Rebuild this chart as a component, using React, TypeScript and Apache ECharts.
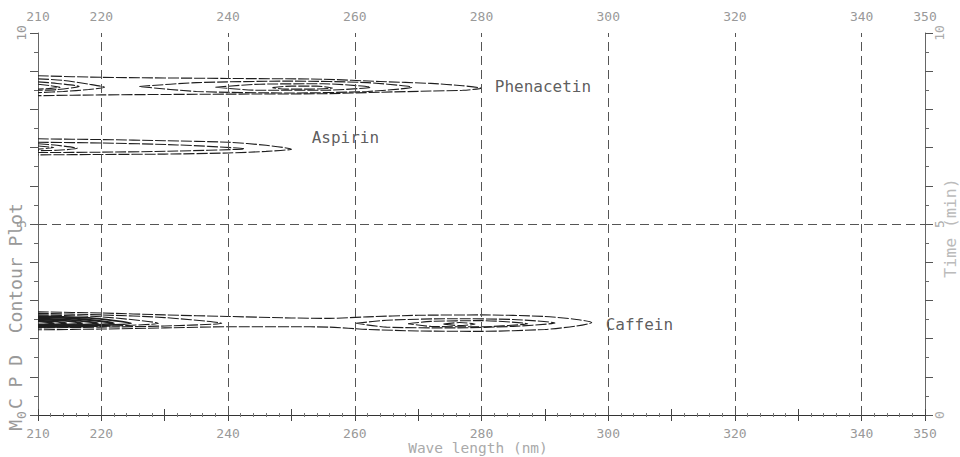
import React, { useEffect, useRef } from "react";
import * as echarts from "echarts";

// Axis ticks / labels
const waveLabels = [210, 220, 240, 260, 280, 300, 320, 340, 350];
const timeLabels = [0, 5, 10];
const gridWaves = [220, 240, 260, 280, 300, 320, 340];
const gridTimes = [5];

// Compound annotations
const compoundNames = ["Phenacetin", "Aspirin", "Caffein"];
const labelWaves = [282.1, 253.2, 299.6];
const labelTimes = [8.59, 7.26, 2.36];

// Contour lines [wavelength nm, time min]
const phenacetinContours: number[][][] = [
  [[210, 8.88], [220, 8.84], [240, 8.81], [255, 8.79], [264, 8.73], [272, 8.68], [277, 8.62], [280, 8.555], [277, 8.5], [272, 8.48], [264, 8.45], [255, 8.41], [240, 8.4], [220, 8.38], [210, 8.36]],
  [[210, 8.8], [214, 8.76], [218, 8.66], [220.5, 8.58], [218, 8.52], [214, 8.47], [210, 8.44]],
  [[226, 8.6], [235, 8.7], [250, 8.74], [262, 8.7], [269, 8.58], [262, 8.47], [250, 8.43], [235, 8.47], [226, 8.6]],
  [[210, 8.72], [213, 8.68], [216.5, 8.6], [213, 8.52], [210, 8.5]],
  [[238, 8.58], [245, 8.66], [255, 8.67], [262.5, 8.58], [255, 8.5], [245, 8.5], [238, 8.58]],
  [[210, 8.66], [212, 8.62], [213.5, 8.58], [212, 8.55], [210, 8.53]],
  [[247, 8.57], [250, 8.61], [254, 8.61], [256.5, 8.56], [253, 8.53], [249, 8.53], [247, 8.57]],
];

const aspirinContours: number[][][] = [
  [[210, 7.23], [220, 7.21], [230, 7.18], [240, 7.14], [246, 7.06], [250, 6.96], [246, 6.9], [240, 6.86], [230, 6.83], [220, 6.82], [210, 6.81]],
  [[210, 7.14], [220, 7.12], [232, 7.07], [242.6, 6.97], [232, 6.91], [220, 6.88], [210, 6.87]],
  [[210, 7.1], [213, 7.06], [216.2, 6.98], [213, 6.93], [210, 6.92]],
  [[210, 7.04], [212.5, 7.0], [210, 6.96]],
];

const caffeinContours: number[][][] = [
  [[210, 2.7], [220, 2.67], [230, 2.62], [240, 2.58], [250, 2.54], [256, 2.53], [262, 2.57], [270, 2.61], [280, 2.62], [290, 2.58], [295, 2.5], [297.4, 2.42], [295, 2.33], [290, 2.24], [280, 2.19], [270, 2.2], [262, 2.24], [256, 2.3], [250, 2.31], [240, 2.31], [230, 2.28], [220, 2.25], [210, 2.23]],
  [[210, 2.66], [220, 2.62], [230, 2.55], [239, 2.4], [230, 2.33], [220, 2.3], [210, 2.28]],
  [[210, 2.62], [220, 2.57], [229, 2.4], [220, 2.32], [210, 2.3]],
  [[210, 2.59], [218, 2.54], [224.7, 2.4], [218, 2.33], [210, 2.31]],
  [[210, 2.56], [216, 2.52], [222, 2.4], [216, 2.34], [210, 2.32]],
  [[210, 2.53], [215, 2.49], [219.5, 2.4], [215, 2.35], [210, 2.33]],
  [[210, 2.5], [214, 2.47], [217, 2.4], [214, 2.36], [210, 2.34]],
  [[210, 2.47], [212.5, 2.45], [214.5, 2.4], [212.5, 2.37], [210, 2.35]],
  [[210, 2.45], [211.5, 2.43], [212.5, 2.4], [211.5, 2.38], [210, 2.37]],
  [[260.2, 2.4], [265, 2.48], [275, 2.52], [285, 2.5], [291.6, 2.41], [285, 2.32], [275, 2.28], [265, 2.3], [260.2, 2.4]],
  [[268.4, 2.39], [272, 2.45], [280, 2.47], [287.3, 2.39], [280, 2.31], [272, 2.32], [268.4, 2.39]],
  [[274, 2.38], [276.5, 2.42], [279, 2.38], [276.5, 2.34], [274, 2.38]],
];

const MONO = '"DejaVu Sans Mono", monospace';

export default function App() {
  const ref = useRef<HTMLDivElement>(null);
  useEffect(() => {
    if (!ref.current) return;
    const chart = echarts.init(ref.current, undefined, { renderer: "svg" });

    const contourSeries = (list: number[][][], denseFrom: number, denseTo: number) =>
      list.map((c, i) => ({
        type: "line",
        data: c,
        smooth: 0.25,
        symbol: "none",
        silent: true,
        xAxisIndex: 0,
        yAxisIndex: 0,
        lineStyle: {
          color: "#1e1e1e",
          width: i >= denseFrom && i <= denseTo ? 1.8 : 1.1,
          type: i >= denseFrom && i <= denseTo ? "solid" : [11, 2],
        },
      }));

    const xAxisBase = (position: string, margin: number) => ({
      type: "value",
      position,
      min: 210,
      max: 350,
      interval: 10,
      axisLine: { show: true, lineStyle: { color: "#333", width: 1.2 } },
      axisTick: { show: true, length: 6, lineStyle: { color: "#444" } },
      minorTick: { show: true, splitNumber: 5, length: 2, lineStyle: { color: "#777" } },
      splitLine: { show: false },
      axisLabel: {
        margin,
        color: "#999",
        fontFamily: MONO,
        fontSize: 13,
        formatter: (v: number) => (waveLabels.includes(v) ? String(v) : ""),
      },
    });
    const yAxisBase = (position: string, margin: number, color: string) => ({
      type: "value",
      position,
      min: 0,
      max: 10,
      interval: 1,
      axisLine: { show: true, lineStyle: { color: "#666", width: 1 } },
      axisTick: { show: true, length: 8, lineStyle: { color: "#555" } },
      minorTick: { show: true, splitNumber: 2, length: 4, lineStyle: { color: "#666" } },
      splitLine: { show: false },
      axisLabel: {
        margin,
        rotate: 90,
        color,
        fontFamily: MONO,
        fontSize: 13,
        formatter: (v: number) => (timeLabels.includes(v) ? String(v) : ""),
      },
    });

    chart.setOption({
      animation: false,
      backgroundColor: "#fff",
      grid: { left: 38, right: 35, top: 33, bottom: 42 },
      xAxis: [xAxisBase("bottom", 12), xAxisBase("top", 10)],
      yAxis: [yAxisBase("left", 10, "#999"), yAxisBase("right", 8, "#aaa")],
      series: [
        ...contourSeries(phenacetinContours, -1, -1),
        ...contourSeries(aspirinContours, -1, -1),
        ...contourSeries(caffeinContours, 3, 8),
        {
          type: "scatter",
          xAxisIndex: 0,
          yAxisIndex: 0,
          symbolSize: 0,
          silent: true,
          data: compoundNames.map((n, i) => ({ name: n, value: [labelWaves[i], labelTimes[i]] })),
          label: {
            show: true,
            position: "right",
            distance: 0,
            formatter: "{b}",
            fontFamily: MONO,
            fontSize: 16,
            color: "#333",
          },
          markLine: {
            symbol: "none",
            silent: true,
            label: { show: false },
            lineStyle: { color: "#555", width: 1, type: [9, 5] },
            data: [
              ...gridWaves.map((v) => ({ xAxis: v })),
              ...gridTimes.map((v) => ({ yAxis: v })),
            ],
          },
        },
      ],
      graphic: [
        {
          type: "text",
          x: 478,
          y: 448,
          style: { text: "Wave length (nm)", fontFamily: MONO, fontSize: 14.5, fill: "#aaa", align: "center", verticalAlign: "middle" },
        },
        {
          type: "text",
          x: 15,
          y: 317,
          rotation: Math.PI / 2,
          style: { text: "M C P D  Contour Plot", fontFamily: MONO, fontSize: 18, fill: "#999", align: "center", verticalAlign: "middle" },
        },
        {
          type: "text",
          x: 950,
          y: 228,
          rotation: Math.PI / 2,
          style: { text: "Time (min)", fontFamily: MONO, fontSize: 16.5, fill: "#bbb", align: "center", verticalAlign: "middle" },
        },
      ],
    });
    return () => chart.dispose();
  }, []);
  return (
    <div
      ref={ref}
      style={{ position: "fixed", left: 0, top: 0, width: 960, height: 457 }}
    />
  );
}
